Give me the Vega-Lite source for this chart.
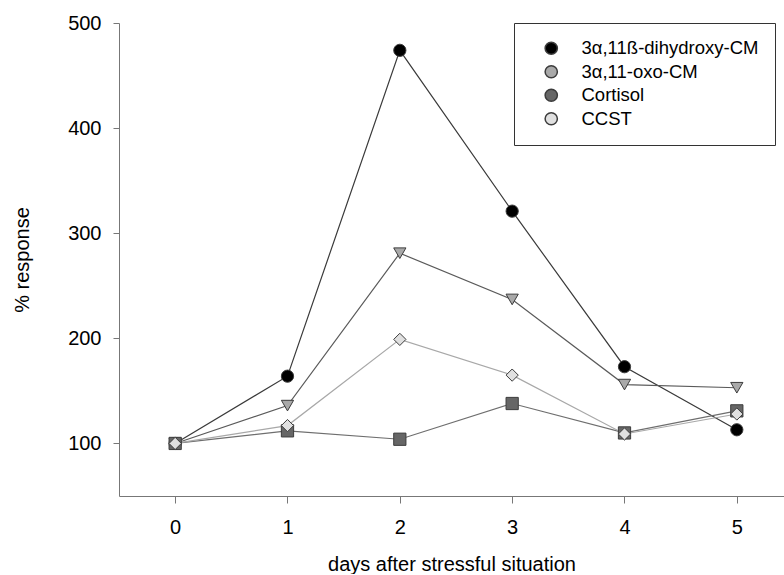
{
  "$schema": "https://vega.github.io/schema/vega-lite/v6.json",
  "width": 665,
  "height": 473,
  "padding": {"left": 12, "top": 13, "right": 0, "bottom": 0},
  "background": "white",
  "config": {
    "view": {"stroke": null},
    "font": "Liberation Sans",
    "axis": {
      "labelFont": "Liberation Sans",
      "labelFontSize": 20,
      "labelColor": "#000",
      "titleFont": "Liberation Sans",
      "titleFontSize": 20,
      "titleFontWeight": "normal",
      "titleColor": "#000",
      "domainColor": "#777",
      "tickColor": "#777",
      "grid": false
    },
    "legend": {
      "padding": 16,
      "strokeColor": "#333",
      "symbolSize": 150,
      "labelFontSize": 18.5,
      "labelLimit": 300,
      "labelOffset": 21,
      "symbolOffset": 12,
      "rowPadding": 4.5
    }
  },
  "data": {
    "values": [
      {"day": 0, "series": "3α,11ß-dihydroxy-CM", "value": 100},
      {"day": 1, "series": "3α,11ß-dihydroxy-CM", "value": 164},
      {"day": 2, "series": "3α,11ß-dihydroxy-CM", "value": 474},
      {"day": 3, "series": "3α,11ß-dihydroxy-CM", "value": 321},
      {"day": 4, "series": "3α,11ß-dihydroxy-CM", "value": 173},
      {"day": 5, "series": "3α,11ß-dihydroxy-CM", "value": 113},
      {"day": 0, "series": "3α,11-oxo-CM", "value": 100},
      {"day": 1, "series": "3α,11-oxo-CM", "value": 136},
      {"day": 2, "series": "3α,11-oxo-CM", "value": 281},
      {"day": 3, "series": "3α,11-oxo-CM", "value": 237},
      {"day": 4, "series": "3α,11-oxo-CM", "value": 156},
      {"day": 5, "series": "3α,11-oxo-CM", "value": 153},
      {"day": 0, "series": "Cortisol", "value": 100},
      {"day": 1, "series": "Cortisol", "value": 112},
      {"day": 2, "series": "Cortisol", "value": 104},
      {"day": 3, "series": "Cortisol", "value": 138},
      {"day": 4, "series": "Cortisol", "value": 110},
      {"day": 5, "series": "Cortisol", "value": 131},
      {"day": 0, "series": "CCST", "value": 100},
      {"day": 1, "series": "CCST", "value": 117},
      {"day": 2, "series": "CCST", "value": 199},
      {"day": 3, "series": "CCST", "value": 165},
      {"day": 4, "series": "CCST", "value": 109},
      {"day": 5, "series": "CCST", "value": 128}
    ]
  },
  "encoding": {
    "x": {
      "field": "day",
      "type": "quantitative",
      "scale": {"domain": [-0.5, 5.42], "nice": false, "zero": false},
      "axis": {
        "title": "days after stressful situation",
        "values": [0, 1, 2, 3, 4, 5],
        "format": "d",
        "tickSize": 7,
        "labelPadding": 14,
        "titlePadding": 17
      }
    },
    "y": {
      "field": "value",
      "type": "quantitative",
      "scale": {"domain": [50, 500], "nice": false, "zero": false},
      "axis": {
        "title": "% response",
        "values": [100, 200, 300, 400, 500],
        "tickSize": 6,
        "labelPadding": 12,
        "titlePadding": 35
      }
    }
  },
  "layer": [
    {
      "mark": {"type": "line", "strokeWidth": 1.2},
      "encoding": {
        "stroke": {
          "field": "series",
          "type": "nominal",
          "sort": ["3α,11ß-dihydroxy-CM", "3α,11-oxo-CM", "Cortisol", "CCST"],
          "scale": {"range": ["#3a3a3a", "#5a5a5a", "#6e6e6e", "#a8a8a8"]},
          "legend": null
        }
      }
    },
    {
      "mark": {"type": "point", "filled": true, "size": 150, "stroke": "#3c3c3c", "strokeWidth": 1, "opacity": 1},
      "encoding": {
        "shape": {
          "field": "series",
          "type": "nominal",
          "sort": ["3α,11ß-dihydroxy-CM", "3α,11-oxo-CM", "Cortisol", "CCST"],
          "scale": {"range": ["circle", "triangle-down", "square", "diamond"]},
          "legend": null
        },
        "fill": {
          "field": "series",
          "type": "nominal",
          "sort": ["3α,11ß-dihydroxy-CM", "3α,11-oxo-CM", "Cortisol", "CCST"],
          "scale": {"range": ["#000000", "#a9a9a9", "#666666", "#e0e0e0"]},
          "legend": {
            "title": null,
            "orient": "none",
            "legendX": 395,
            "legendY": 0,
            "encode": {
              "symbols": {
                "shape": {"value": {"expr": "indexof(datum.value,'dihydroxy')>=0 ? 'M-3.5,0H-1M1,0H3.5M-1,0A1,1,0,1,1,1,0A1,1,0,1,1,-1,0Z' : indexof(datum.value,'oxo')>=0 ? 'M-3.5,0H-0.52M0.52,0H3.5M-1,-0.85L1,-0.85L0,0.9Z' : datum.value=='Cortisol' ? 'M-3.5,0H-0.9M0.9,0H3.5M-0.9,-0.9H0.9V0.9H-0.9Z' : 'M-3.5,0H-1.1M1.1,0H3.5M-1.1,0L0,-1.05L1.1,0L0,1.05Z'"}}
              }
            }
          }
        }
      }
    }
  ]
}
